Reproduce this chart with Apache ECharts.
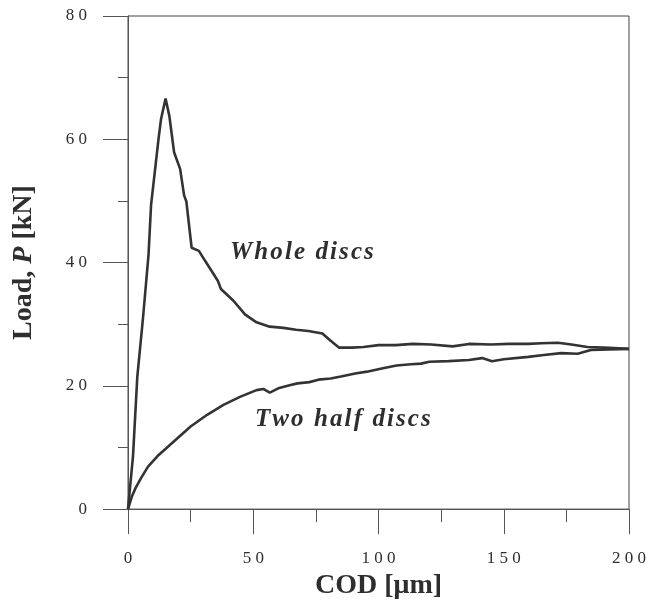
<!DOCTYPE html>
<html>
<head>
<meta charset="utf-8">
<script src="https://cdn.jsdelivr.net/npm/echarts@6/dist/echarts.min.js"></script>
<style>html,body{margin:0;padding:0;background:#fff}#c{width:649px;height:605px}</style>
</head>
<body>
<div id="c"></div>
<script>
// Whole discs: COD [μm] and load [kN]
const wholeX = [0, 2.0, 3.7, 5.9, 8.2, 9.2, 12.2, 13.2, 15.0, 16.5, 18.4, 20.8, 22.4, 23.3, 25.4, 28.3, 30.9, 34.2, 35.9, 37.1, 42.1, 46.7, 51.3, 56.6, 62, 67.1, 72, 77.6, 80.9, 84.2, 89.4, 94.0, 100, 107, 113.8, 121, 129.6, 136.1, 145, 152, 159.8, 165, 171.6, 177, 183.4, 190, 200];
const wholeY = [0, 8.6, 21.4, 30.6, 41.3, 49.3, 60.1, 63.3, 66.6, 63.8, 57.9, 55.2, 50.9, 49.9, 42.4, 41.9, 40.2, 38.1, 37.0, 35.7, 33.8, 31.6, 30.3, 29.6, 29.4, 29.1, 28.9, 28.5, 27.3, 26.2, 26.2, 26.3, 26.6, 26.6, 26.8, 26.7, 26.4, 26.8, 26.7, 26.8, 26.8, 26.9, 27.0, 26.7, 26.3, 26.2, 26.0];
// Two half discs
const halfX = [0, 1.5, 3.0, 5.3, 8.0, 11.8, 18.4, 25.0, 31.6, 38.1, 44.7, 51.3, 54, 56.6, 60, 64.5, 67.7, 72.4, 76, 80.9, 85, 90.7, 95.4, 101.3, 107.2, 113, 117, 120.3, 128, 136.1, 141.4, 145.3, 150, 159.8, 166, 172.9, 179.5, 184.8, 192, 200];
const halfY = [0, 2.0, 3.4, 5.1, 6.9, 8.6, 11.0, 13.4, 15.3, 16.9, 18.2, 19.3, 19.5, 18.9, 19.6, 20.1, 20.4, 20.6, 21.0, 21.2, 21.5, 22.0, 22.3, 22.8, 23.3, 23.5, 23.6, 23.9, 24.0, 24.2, 24.5, 24.0, 24.3, 24.7, 25.0, 25.3, 25.2, 25.8, 25.9, 26.0];
const xTicks = [0, 50, 100, 150, 200];
const yTicks = [0, 20, 40, 60, 80];
const seriesNames = ['Whole discs', 'Two half discs'];

const pair = (xs, ys) => xs.map((x, i) => [x, ys[i]]);
const spaced = s => s.split('').join('\u200A');
const chart = echarts.init(document.getElementById('c'), null, {renderer: 'canvas'});
const serif = '"Liberation Serif", "DejaVu Serif", serif';
const axisCol = '#555';
const txtCol = '#2e2e2e';
chart.setOption({
  animation: false,
  backgroundColor: '#fff',
  grid: {left: 128, right: 14, top: 16, bottom: 92, show: true, borderColor: '#444', borderWidth: 1},
  xAxis: {
    type: 'value', min: xTicks[0], max: xTicks[xTicks.length - 1], interval: 50,
    name: 'COD [μm]', nameLocation: 'middle', nameGap: 62,
    nameTextStyle: {fontFamily: serif, fontWeight: 'bold', fontSize: 28, color: txtCol},
    axisLine: {show: true, lineStyle: {color: axisCol, width: 1}},
    axisTick: {show: true, inside: false, length: 25, lineStyle: {color: axisCol}},
    minorTick: {show: true, splitNumber: 2, length: 13, lineStyle: {color: axisCol}},
    axisLabel: {margin: 41, fontFamily: serif, fontSize: 17, color: txtCol,
      formatter: v => xTicks.includes(v) ? String(v).split('').join(' ') : ''},
    splitLine: {show: false}
  },
  yAxis: {
    type: 'value', min: yTicks[0], max: yTicks[yTicks.length - 1], interval: 20,
    name: '{a|Load, }{b|P}{a| [kN]}', nameLocation: 'middle', nameGap: 90,
    nameTextStyle: {rich: {
      a: {fontFamily: serif, fontWeight: 'bold', fontSize: 28, color: txtCol},
      b: {fontFamily: serif, fontWeight: 'bold', fontStyle: 'italic', fontSize: 28, color: txtCol}
    }},
    axisLine: {show: true, lineStyle: {color: axisCol, width: 1}},
    axisTick: {show: true, inside: false, length: 25, lineStyle: {color: axisCol}},
    minorTick: {show: true, splitNumber: 2, length: 10, lineStyle: {color: axisCol}},
    axisLabel: {margin: 41, fontFamily: serif, fontSize: 17, color: txtCol,
      formatter: v => yTicks.includes(v) ? String(v).split('').join(' ') : ''},
    splitLine: {show: false}
  },
  series: [
    {name: seriesNames[0], type: 'line', data: pair(wholeX, wholeY), showSymbol: false, smooth: false,
      lineStyle: {color: '#333', width: 2.6}},
    {name: seriesNames[1], type: 'line', data: pair(halfX, halfY), showSymbol: false, smooth: false,
      lineStyle: {color: '#333', width: 2.6}}
  ],
  graphic: [
    {type: 'text', left: 230, top: 240, style: {text: spaced(seriesNames[0]), font: 'italic bold 25px ' + serif, fill: txtCol}},
    {type: 'text', left: 255, top: 407, style: {text: spaced(seriesNames[1]), font: 'italic bold 25px ' + serif, fill: txtCol}}
  ]
});
</script>
</body>
</html>
